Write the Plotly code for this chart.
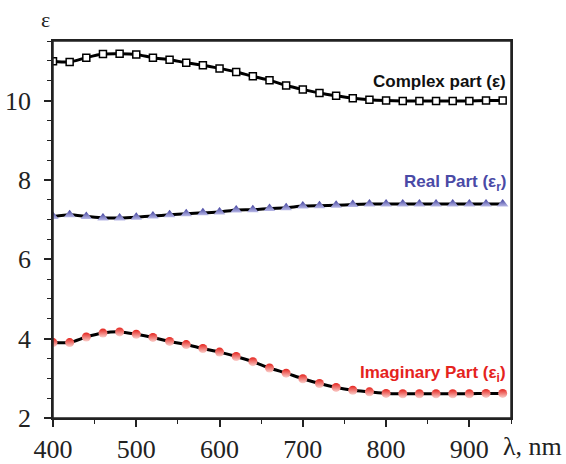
import plotly.graph_objects as go

wavelength = [400, 420, 440, 460, 480, 500, 520, 540, 560, 580, 600, 620, 640, 660,
              680, 700, 720, 740, 760, 780, 800, 820, 840, 860, 880, 900, 920, 940]
eps_complex = [10.99, 10.97, 11.08, 11.17, 11.18, 11.16, 11.08, 11.03, 10.95, 10.89,
               10.81, 10.72, 10.61, 10.51, 10.38, 10.28, 10.19, 10.12, 10.06, 10.02,
               10.00, 9.99, 9.99, 9.99, 9.99, 9.99, 10.00, 10.00]
eps_real = [7.08, 7.12, 7.08, 7.04, 7.04, 7.06, 7.09, 7.12, 7.15, 7.17,
            7.19, 7.24, 7.25, 7.28, 7.30, 7.34, 7.35, 7.36, 7.38, 7.39,
            7.39, 7.39, 7.39, 7.39, 7.39, 7.39, 7.39, 7.39]
eps_imag = [3.90, 3.90, 4.04, 4.14, 4.17, 4.11, 4.03, 3.93, 3.85, 3.75,
            3.66, 3.55, 3.42, 3.26, 3.13, 2.99, 2.87, 2.77, 2.70, 2.66,
            2.62, 2.61, 2.61, 2.61, 2.61, 2.61, 2.62, 2.62]

x_ticks = [400, 500, 600, 700, 800, 900]
y_ticks = [2, 4, 6, 8, 10]

labels = ["Complex part (ε)", "Real Part (ε<sub>r</sub>)", "Imaginary Part (ε<sub>i</sub>)"]
label_y = [10.47, 7.91, 3.12]
label_colors = ["#111111", "#4a4aa6", "#e5231d"]

fig = go.Figure()

line_style = dict(color="black", width=3, shape="spline", smoothing=0.6)

fig.add_trace(go.Scatter(
    x=wavelength, y=eps_complex, mode="lines+markers", line=line_style,
    marker=dict(symbol="square", size=7, color="white",
                line=dict(color="black", width=1.5)),
    showlegend=False))

fig.add_trace(go.Scatter(
    x=wavelength, y=eps_real, mode="lines+markers", line=line_style,
    marker=dict(symbol="triangle-up", size=10, color="#3f3f9e",
                gradient=dict(type="vertical", color="#b8b8e6"),
                line=dict(width=0)),
    showlegend=False))

fig.add_trace(go.Scatter(
    x=wavelength, y=eps_imag, mode="lines+markers", line=line_style,
    marker=dict(symbol="circle", size=9, color="#e5231d",
                gradient=dict(type="vertical", color="#fbd0cc"),
                line=dict(width=0)),
    showlegend=False))

for text, yv, col in zip(labels, label_y, label_colors):
    fig.add_annotation(x=946, y=yv, xref="x", yref="y", text=f"<b>{text}</b>",
                       showarrow=False, xanchor="right", yanchor="middle",
                       font=dict(family="Liberation Sans, Arial", size=17, color=col))

fig.add_annotation(x=1.046, y=-0.075, xref="paper", yref="paper", text="λ, nm",
                   showarrow=False, xanchor="center", yanchor="middle",
                   font=dict(family="Liberation Serif, Times New Roman", size=26, color="#222"))
fig.add_annotation(x=-0.017, y=1.058, xref="paper", yref="paper", text="ε",
                   showarrow=False, xanchor="center", yanchor="middle",
                   font=dict(family="Liberation Serif, Times New Roman", size=22, color="#222"))

fig.add_shape(type="rect", xref="paper", yref="paper", x0=0, y0=0, x1=1, y1=1,
              line=dict(color="#222", width=1.5), fillcolor="rgba(0,0,0,0)", layer="above")

axis_common = dict(showline=True, linecolor="#222", linewidth=1.5, mirror=True,
                   showgrid=False, zeroline=False, ticks="outside", ticklen=7,
                   tickwidth=1.5, tickcolor="#222", automargin=False,
                   tickfont=dict(family="Liberation Serif, Times New Roman", size=26, color="#222"))

fig.update_xaxes(range=[400, 950], tickvals=x_ticks,
                 minor=dict(dtick=50, ticks="outside", ticklen=4, tickwidth=1.2, tickcolor="#222"),
                 ticklabelstandoff=0, **axis_common)
fig.update_yaxes(range=[2, 11.5], tickvals=y_ticks,
                 minor=dict(dtick=0.5, ticks="outside", ticklen=4, tickwidth=1.2, tickcolor="#222"),
                 ticklabelstandoff=8, **axis_common)

fig.update_layout(width=566, height=464, margin=dict(l=53, r=55, t=41, b=46),
                  paper_bgcolor="white", plot_bgcolor="white")

fig.write_html("out.html")
